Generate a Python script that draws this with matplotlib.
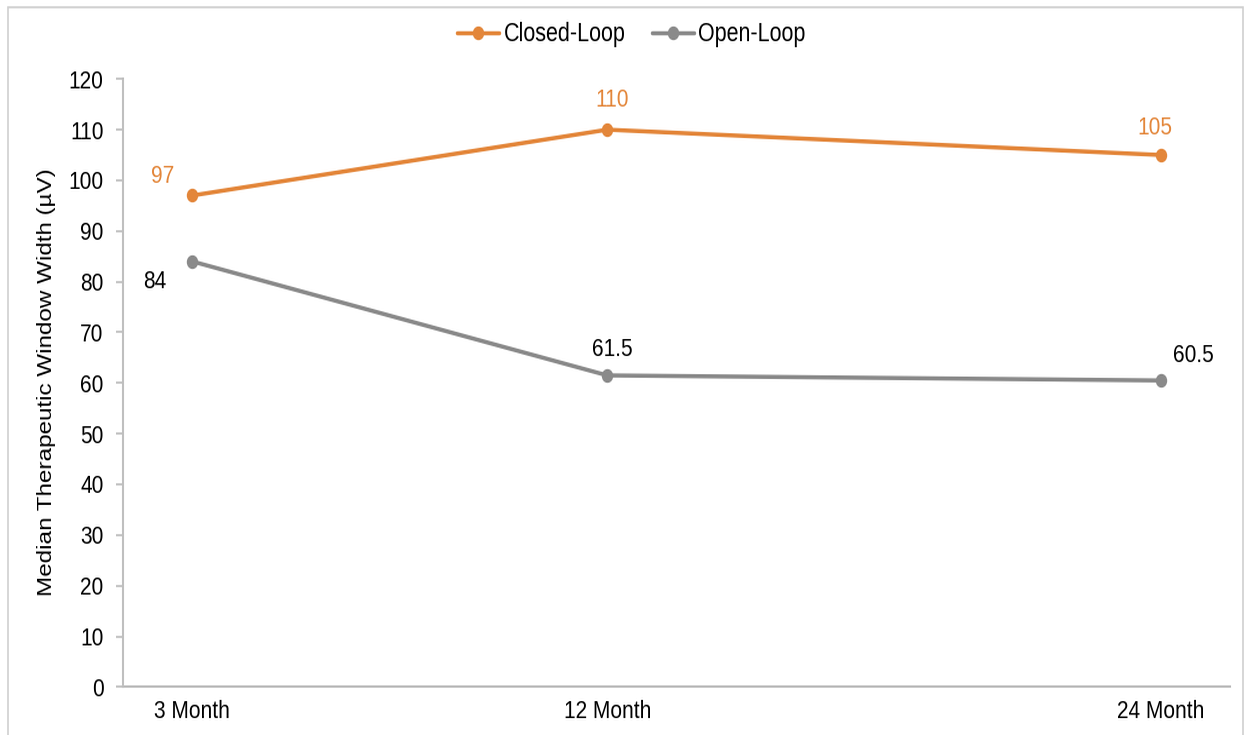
import io
import matplotlib
matplotlib.use("Agg")
import matplotlib.pyplot as plt
from matplotlib.patches import Rectangle
from PIL import Image

plt.rcParams['font.family'] = ['Liberation Sans', 'DejaVu Sans']

months = [3, 12, 24]
tick_labels = ["3 Month", "12 Month", "24 Month"]
closed_loop = [97, 110, 105]
open_loop = [84, 61.5, 60.5]
closed_labels = ["97", "110", "105"]
open_labels = ["84", "61.5", "60.5"]

ORANGE = "#E3863A"
GREY = "#8A8A8A"
SPINE = "#BFBFBF"

OUT_W, OUT_H = 1251, 735
DRAW_H = 607  # drawn at this height, then stretched vertically to OUT_H

fig = plt.figure(figsize=(OUT_W / 100, DRAW_H / 100), dpi=100)
ax = fig.add_axes([123 / OUT_W, 1 - 687 / OUT_H, (1230 - 123) / OUT_W, (687 - 79) / OUT_H])

# outer frame of the chart area
fig.patches.append(Rectangle((8 / OUT_W, -0.05), (1243 - 8) / OUT_W, 1.05 - 7 / OUT_H,
                             transform=fig.transFigure, fill=False,
                             edgecolor="#D0D0D0", linewidth=1.2))

ax.plot(months, closed_loop, color=ORANGE, lw=2.5, marker="o", ms=7.2, label="Closed-Loop",
        solid_capstyle="round")
ax.plot(months, open_loop, color=GREY, lw=2.5, marker="o", ms=7.2, label="Open-Loop",
        solid_capstyle="round")

# value labels (offsets in points, anchored at text baseline)
c_offsets = [(-21.2, 7.7), (3.2, 13.7), (-4.3, 12.5)]
o_offsets = [(-26.6, -16.1), (3.6, 11.3), (23.8, 10.7)]
for x, y, t, off in zip(months, closed_loop, closed_labels, c_offsets):
    ax.annotate(t, (x, y), xytext=off, textcoords="offset points", ha="center",
                va="baseline", color=ORANGE, fontsize=15)
for x, y, t, off in zip(months, open_loop, open_labels, o_offsets):
    ax.annotate(t, (x, y), xytext=off, textcoords="offset points", ha="center",
                va="baseline", color="black", fontsize=15)

ax.set_xlim(1.5, 25.5)
ax.set_ylim(0, 120)
ax.set_yticks(range(0, 121, 10))
ax.set_xticks(months)
ax.set_xticklabels(tick_labels)
ax.tick_params(axis="y", length=5, width=1.2, color=SPINE, labelsize=15, pad=9)
ax.tick_params(axis="x", length=0, labelsize=15, pad=7.8)
for s in ["top", "right"]:
    ax.spines[s].set_visible(False)
for s in ["left", "bottom"]:
    ax.spines[s].set_color(SPINE)
    ax.spines[s].set_linewidth(1.5)

ax.set_ylabel("Median Therapeutic Window Width (µV)", fontsize=14.4)
ax.yaxis.set_label_coords((47 - 123) / 1107, 0.502)
ax.yaxis.label.set_va("center")

fig.legend(handles=ax.get_lines(), loc="center", bbox_to_anchor=(0.5048, 1 - 35 / OUT_H),
           ncol=2, frameon=False, fontsize=15.5, handlelength=1.95,
           columnspacing=1.25, handletextpad=0.2)

buf = io.BytesIO()
fig.savefig(buf, dpi=100, format="png")
buf.seek(0)
img = Image.open(buf).convert("RGB").resize((OUT_W, OUT_H), Image.LANCZOS)
img.save("out.png")
